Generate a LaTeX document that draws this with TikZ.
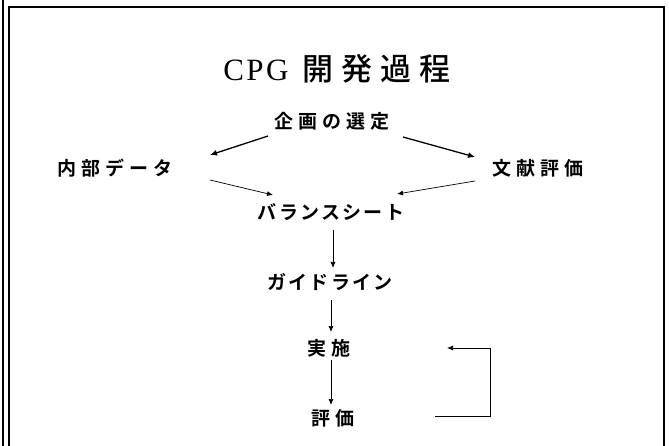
\documentclass[tikz,border=0pt]{standalone}
\usepackage{fontspec}
\setmainfont{Liberation Serif}
\newfontfamily\jpb[LetterSpace=26]{Noto Sans CJK JP Bold}
\newfontfamily\jpk[LetterSpace=12]{Noto Sans CJK JP Bold}
\newfontfamily\jpt[LetterSpace=26]{Noto Sans CJK JP Medium}
\newfontfamily\serifsp[LetterSpace=8]{Liberation Serif}
\usetikzlibrary{calc,arrows.meta}
\begin{document}
\begin{tikzpicture}[x=1pt,y=-1pt,
  lbl/.style={inner sep=0pt,font=\jpb\fontsize{19}{19}\selectfont},
  lblk/.style={inner sep=0pt,font=\jpk\fontsize{19}{19}\selectfont},
  arr/.style={-{Latex[length=6pt,width=5pt]},line width=0.7pt},
  arrb/.style={-{Latex[length=7pt,width=6pt]},line width=1.3pt}]
\useasboundingbox (0,0) rectangle (669,446);
\fill[white] (0,0) rectangle (669,446);
% frame
\draw[line width=2pt] (2.5,0) -- (2.5,446);
\draw[line width=2pt] (9,446) -- (9,7.5) -- (664,7.5) -- (664,446);
% title
\node[inner sep=0pt] (title) at (337,69) {\serifsp\fontsize{31}{31}\selectfont CPG\hspace{14pt}{\jpt\fontsize{31}{31}\selectfont 開発過程}};
% nodes
\node[lbl] (sel) at (332,121) {企画の選定};
\node[lbl] (int) at (115,168) {内部データ};
\node[lbl] (bun) at (538,168) {文献評価};
\node[lblk] (bal) at (331,212) {バランスシート};
\node[lblk] (gui) at (330,282) {ガイドライン};
\node[lbl] (jis) at (329,348) {実施};
\node[lbl] (hyo) at (333,418) {評価};
% connectors
\draw[arrb] ($(sel)+(-64,15)$) -- ($(int)+(95,-13)$);
\draw[arrb] ($(sel)+(71,16)$) -- ($(bun)+(-63,-11)$);
\draw[arr] ($(int)+(95,12)$) -- ($(bal)+(-58,-17)$);
\draw[arr] ($(bun)+(-63,13)$) -- ($(bal)+(66,-18)$);
\draw[arr] ($(bal)+(2,18)$) -- ($(gui)+(3,-14)$);
\draw[arr] ($(gui)+(1,18)$) -- ($(jis)+(2,-16)$);
\draw[arr] ($(jis)+(2,12)$) -- ($(hyo)+(-2,-13)$);
\draw[arr] ($(hyo)+(102,-2)$) -| ($(jis)+(161,0)$) -- ($(jis)+(118,0)$);
\end{tikzpicture}
\end{document}
